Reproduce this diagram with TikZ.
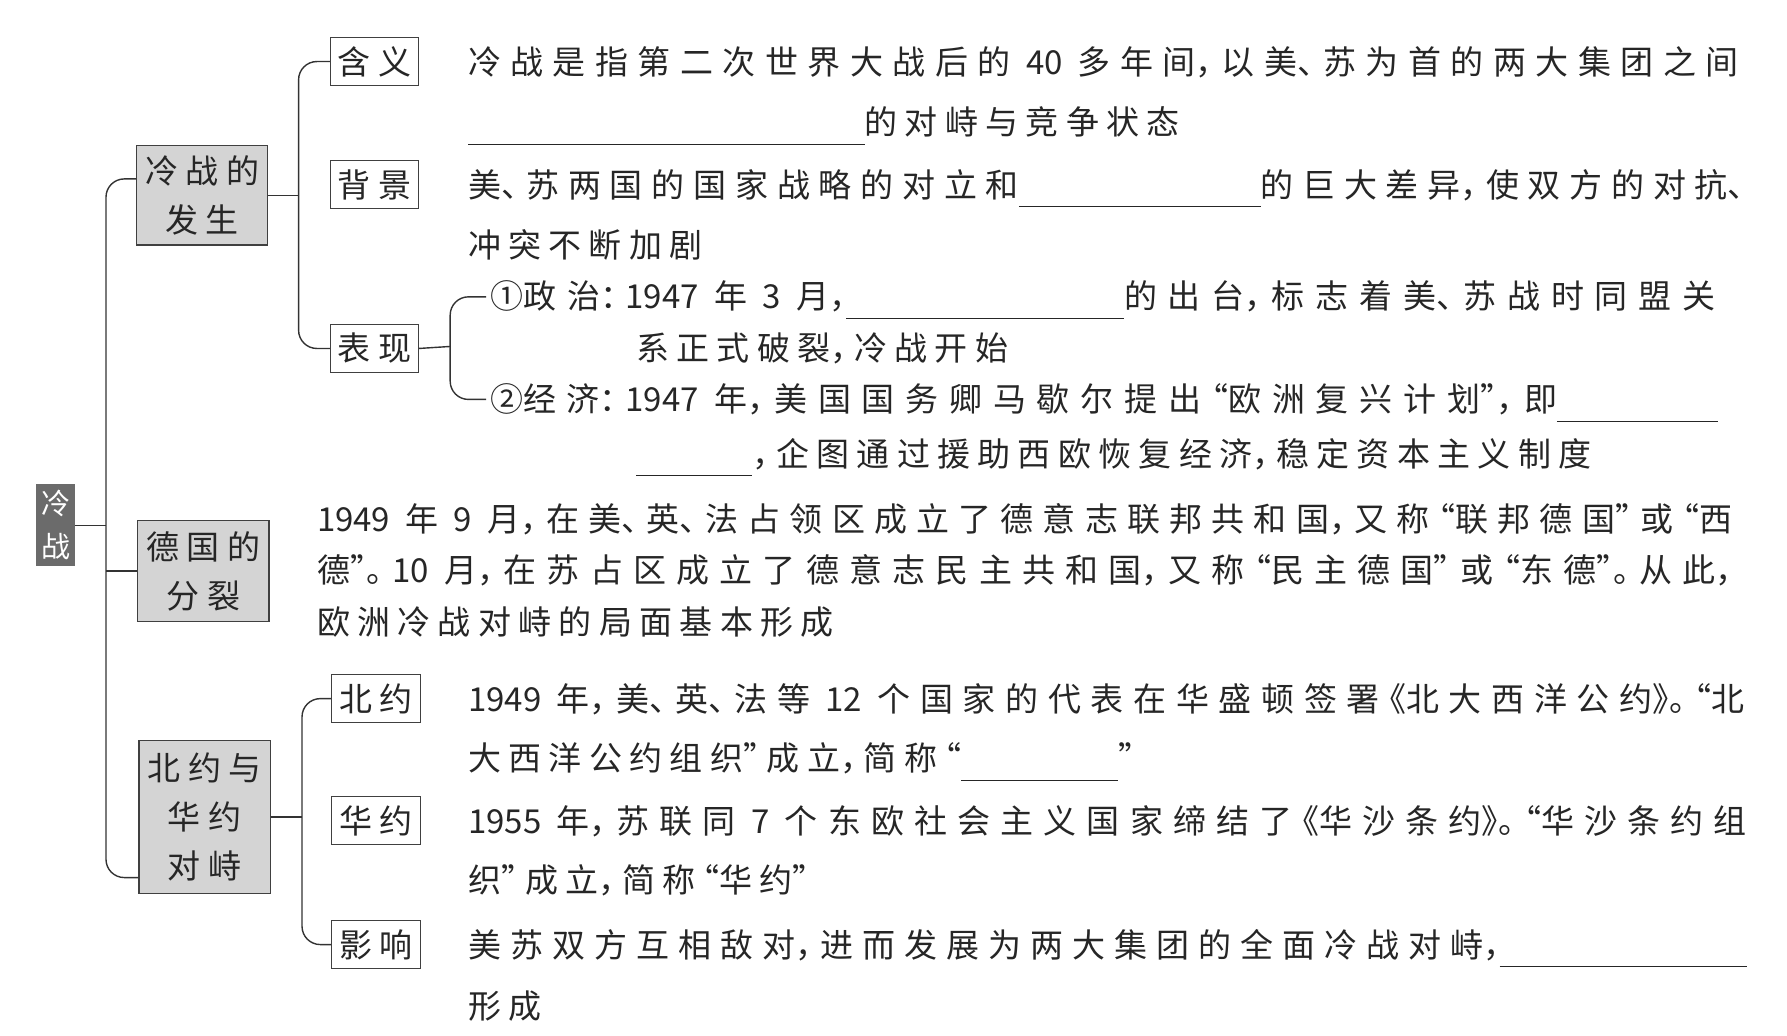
\documentclass[tikz,border=0pt]{standalone}
\usepackage{fontspec}
\setmainfont{Noto Sans CJK SC}[RawFeature=+halt]
\usepackage{tikz}
\usetikzlibrary{positioning}

% spacing between Chinese characters
\XeTeXinterchartokenstate=1
\newXeTeXintercharclass\cjkcls
\newXeTeXintercharclass\clcls
\newXeTeXintercharclass\opcls
\makeatletter
\count@="4E00
\loop\ifnum\count@<"A000 \XeTeXcharclass\count@=\cjkcls \advance\count@ by 1 \repeat
\makeatother
\XeTeXcharclass"FF0C=\clcls \XeTeXcharclass"3001=\clcls \XeTeXcharclass"3002=\clcls
\XeTeXcharclass"FF1A=\clcls \XeTeXcharclass"201D=\clcls \XeTeXcharclass"300B=\clcls
\XeTeXcharclass"201C=\opcls \XeTeXcharclass"300A=\opcls
\newcommand{\cjkglue}{\hskip 7.3pt plus 30pt minus 3pt\relax}
\XeTeXinterchartoks\cjkcls\cjkcls={\cjkglue}
\XeTeXinterchartoks\clcls\cjkcls={\cjkglue}
\XeTeXinterchartoks\clcls\opcls={\cjkglue}
\XeTeXinterchartoks\cjkcls\opcls={\cjkglue}
\XeTeXinterchartoks\clcls 0={\hskip 9pt\relax}

\newdimen\px \px=1.1397pt
\newcommand{\blank}[1]{\rule[-10pt]{#1\px}{0.9pt}}
\newcommand{\fullline}[2]{\hbox to #1\px{#2}}
\newcommand{\bodyfont}{\fontsize{33pt}{49pt}\selectfont\spaceskip=15pt plus 4pt minus 2pt\relax}

\begin{document}
\begin{tikzpicture}[x=1.1397pt, y=-1.1397pt,
    every node/.style={font=\bodyfont, text=black!85},
    rootbox/.style={fill=black!58, text=white, inner sep=0pt, minimum width=34\px,
      minimum height=72\px, align=center, font=\fontsize{29pt}{43pt}\selectfont},
    topicbox/.style={draw=black!75, line width=1.1pt, fill=black!17,
      minimum width=115\px, align=center, inner sep=0pt},
    labelbox/.style={draw=black!75, line width=1.1pt, fill=white,
      minimum width=77\px, minimum height=42\px, inner sep=0pt},
    txt/.style={inner sep=0pt, anchor=base west},
    conn/.style={line width=1.4pt, draw=black!80, rounded corners=16\px}]
  \useasboundingbox (0,0) rectangle (1568,908.2);

  \node[rootbox] (root) at (49,461) {冷\\战};
  \node[topicbox, minimum height=87\px] (fasheng) at (177.5,171.5) {冷战的\\发生};
  \node[topicbox, minimum height=88\px] (fenlie) at (178.5,501) {德国的\\分裂};
  \node[topicbox, minimum height=134\px] (duizhi) at (179.5,717) {北约与\\华约\\对峙};

  \node[labelbox] (hanyi) at (328.5,54) {含义};
  \node[labelbox, below=74pt of hanyi] (beijing) {背景};
  \node[labelbox, below=115pt of beijing] (biaoxian) {表现};
  \node[labelbox, minimum width=78\px] (beiyue) at (330,613) {北约};
  \node[labelbox, minimum width=78\px, below=73pt of beiyue] (huayue) {华约};
  \node[labelbox, minimum width=78\px, below=75pt of huayue] (yingxiang) {影响};

  %hanyi
  \node[txt, base right=49pt of hanyi] (hy1) {\fullline{1115}{冷战是指第二次世界大战后的 40 多年间，以美、苏为首的两大集团之间}};
  \node[txt] (hy2) at ([yshift=-53\px]hy1.base west) {\blank{348}的对峙与竞争状态};

  %beijing
  \node[txt, base right=49pt of beijing] (bj1) {\fullline{1120}{美、苏两国的国家战略的对立和\blank{212}的巨大差异，使双方的对抗、}};
  \node[txt] (bj2) at ([yshift=-53\px]bj1.base west) {冲突不断加剧};

  %biaoxian
  \node[txt] (zz1) at (430,271) {\fullline{1075}{①政治：1947 年 3 月，\blank{244}的出台，标志着美、苏战时同盟关}};
  \node[txt] (zz2) at ([xshift=128\px, yshift=-45\px]zz1.base west) {系正式破裂，冷战开始};
  \node[txt] (jj1) at (430,361) {\fullline{1077}{②经济：1947 年，美国国务卿马歇尔提出“欧洲复兴计划”，即\blank{141}}};
  \node[txt] (jj2) at ([xshift=128\px, yshift=-48\px]jj1.base west) {\blank{102}，企图通过援助西欧恢复经济，稳定资本主义制度};

  %fenlie
  \node[txt] (fl1) at (278,466) {\fullline{1242}{1949 年 9 月，在美、英、法占领区成立了德意志联邦共和国，又称“联邦德国”或“西}};
  \node[txt] (fl2) at ([yshift=-45.5\px]fl1.base west) {\fullline{1242}{德”。10 月，在苏占区成立了德意志民主共和国，又称“民主德国”或“东德”。从此，}};
  \node[txt] (fl3) at ([yshift=-45.5\px]fl2.base west) {欧洲冷战对峙的局面基本形成};

  %beiyue, huayue, yingxiang
  \node[txt, base right=47pt of beiyue] (by1) {\fullline{1120}{1949 年，美、英、法等 12 个国家的代表在华盛顿签署《北大西洋公约》。“北}};
  \node[txt] (by2) at ([yshift=-52\px]by1.base west) {大西洋公约组织”成立，简称“\blank{138}”};
  \node[txt, base right=47pt of huayue] (hu1) {\fullline{1122}{1955 年，苏联同 7 个东欧社会主义国家缔结了《华沙条约》。“华沙条约组}};
  \node[txt] (hu2) at ([yshift=-52\px]hu1.base west) {织”成立，简称“华约”};
  \node[txt, base right=47pt of yingxiang] (yx1) {\fullline{1122}{美苏双方互相敌对，进而发展为两大集团的全面冷战对峙，\blank{217}}};
  \node[txt] (yx2) at ([yshift=-54\px]yx1.base west) {形成};

  %trunk
  \coordinate (trunk) at (93,461);
  \draw[conn] (root) -- (trunk);
  \draw[conn] ([yshift=14.5\px]fasheng.west) -| (trunk) |- ([yshift=-53\px]duizhi.west);
  \draw[conn] (fenlie.west) -- (fenlie.west -| trunk);

  %fasheng>labels
  \coordinate (forkA) at (262,171.5);
  \draw[conn] (fasheng.east) -- (forkA);
  \draw[conn] (hanyi.west) -| (forkA) |- (biaoxian.west);

  %duizhi>labels
  \coordinate (forkB) at (265,717);
  \draw[conn] (duizhi.east) -- (forkB);
  \draw[conn] (beiyue.west) -| (forkB) |- (yingxiang.west);

  %biaoxian>1,2
  \coordinate (forkC) at (395,304);
  \draw[conn] (biaoxian.east) -- (forkC);
  \draw[conn] ([xshift=-4pt, yshift=12pt]zz1.base west) -| (forkC) |- ([xshift=-4pt, yshift=12pt]jj1.base west);
\end{tikzpicture}
\end{document}
